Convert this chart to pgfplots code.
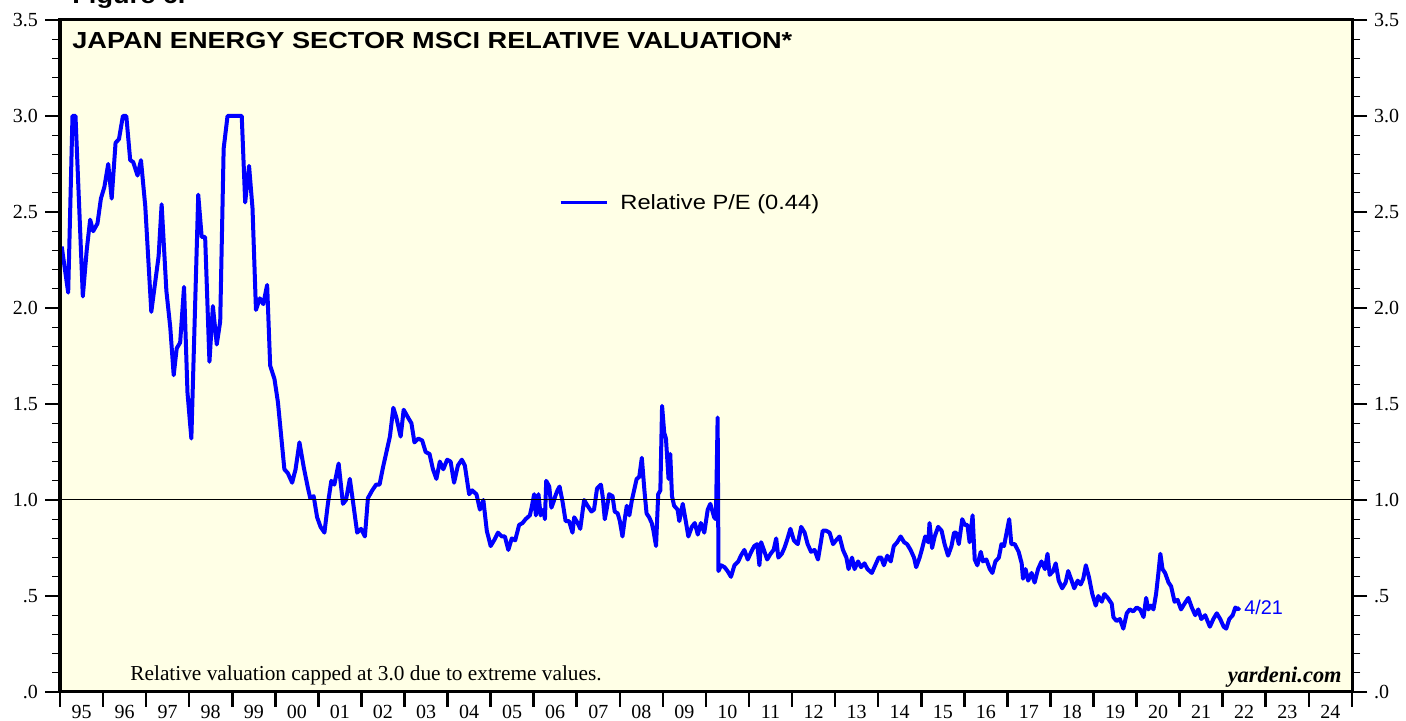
\documentclass[border=0pt]{standalone}
\usepackage{fontspec}
\setmainfont{Liberation Serif}
\newfontfamily\arial{Liberation Sans}
\newfontfamily\arialwide[FakeStretch=1.17]{Liberation Sans}
\newfontfamily\arialleg[FakeStretch=1.15]{Liberation Sans}
\usepackage{pgfplots}
\pgfplotsset{compat=1.18}
\usepackage{pgfplotstable}
\definecolor{bgyellow}{RGB}{255,255,230}
\definecolor{lineblue}{RGB}{0,0,255}
\pgfplotstableread{
yr val
1995.04 2.32
1995.19 2.08
1995.29 3.00
1995.36 3.00
1995.53 2.06
1995.62 2.30
1995.70 2.46
1995.77 2.40
1995.87 2.44
1995.95 2.57
1996.03 2.63
1996.12 2.75
1996.20 2.57
1996.29 2.86
1996.37 2.88
1996.46 3.00
1996.54 3.00
1996.63 2.77
1996.70 2.76
1996.80 2.69
1996.88 2.77
1996.98 2.53
1997.12 1.98
1997.29 2.27
1997.36 2.54
1997.47 2.09
1997.56 1.90
1997.64 1.65
1997.71 1.79
1997.79 1.82
1997.88 2.11
1997.96 1.56
1998.05 1.32
1998.21 2.59
1998.29 2.37
1998.37 2.37
1998.47 1.72
1998.55 2.01
1998.64 1.81
1998.72 1.93
1998.80 2.83
1998.89 3.00
1999.22 3.00
1999.30 2.55
1999.39 2.74
1999.47 2.52
1999.55 1.99
1999.64 2.05
1999.72 2.02
1999.81 2.12
1999.88 1.70
1999.98 1.63
2000.06 1.51
2000.21 1.16
2000.29 1.14
2000.39 1.09
2000.47 1.16
2000.56 1.30
2000.66 1.17
2000.75 1.07
2000.81 1.01
2000.89 1.02
2000.97 0.91
2001.05 0.86
2001.14 0.83
2001.22 0.98
2001.30 1.10
2001.37 1.08
2001.47 1.19
2001.57 0.98
2001.64 1.00
2001.73 1.11
2001.81 0.98
2001.90 0.83
2001.99 0.85
2002.08 0.81
2002.15 1.01
2002.25 1.05
2002.34 1.08
2002.42 1.08
2002.50 1.17
2002.57 1.24
2002.66 1.33
2002.74 1.48
2002.81 1.43
2002.91 1.33
2002.98 1.47
2003.08 1.43
2003.16 1.40
2003.23 1.30
2003.32 1.32
2003.41 1.31
2003.49 1.25
2003.58 1.24
2003.66 1.16
2003.74 1.11
2003.82 1.20
2003.90 1.16
2003.99 1.21
2004.07 1.20
2004.15 1.09
2004.24 1.18
2004.33 1.21
2004.40 1.18
2004.50 1.03
2004.57 1.05
2004.67 1.03
2004.75 0.95
2004.83 1.00
2004.91 0.84
2005.00 0.76
2005.08 0.79
2005.17 0.83
2005.26 0.81
2005.33 0.81
2005.41 0.74
2005.49 0.80
2005.57 0.79
2005.66 0.87
2005.74 0.88
2005.81 0.90
2005.91 0.92
2005.95 0.96
2006.01 1.03
2006.05 0.92
2006.11 1.03
2006.16 0.92
2006.23 0.95
2006.26 0.90
2006.29 1.10
2006.36 1.07
2006.41 0.96
2006.46 0.99
2006.50 1.02
2006.55 1.05
2006.60 1.07
2006.67 0.99
2006.74 0.89
2006.82 0.89
2006.90 0.83
2006.94 0.91
2007.02 0.88
2007.08 0.85
2007.17 1.00
2007.25 0.97
2007.34 0.94
2007.40 0.95
2007.47 1.06
2007.56 1.08
2007.60 1.02
2007.65 0.90
2007.70 0.96
2007.75 1.03
2007.83 1.02
2007.88 0.94
2007.95 0.93
2008.00 0.89
2008.06 0.81
2008.12 0.91
2008.16 0.97
2008.22 0.92
2008.28 1.00
2008.33 1.05
2008.39 1.11
2008.45 1.12
2008.51 1.22
2008.57 1.05
2008.62 0.93
2008.68 0.91
2008.74 0.88
2008.78 0.84
2008.84 0.76
2008.89 1.03
2008.94 1.05
2008.98 1.49
2009.03 1.35
2009.07 1.32
2009.13 1.11
2009.17 1.24
2009.21 1.02
2009.26 0.97
2009.34 0.95
2009.38 0.89
2009.46 0.98
2009.53 0.89
2009.59 0.81
2009.67 0.86
2009.74 0.88
2009.81 0.82
2009.88 0.88
2009.96 0.83
2010.04 0.95
2010.10 0.98
2010.19 0.91
2010.23 0.90
2010.27 1.43
2010.29 0.63
2010.35 0.66
2010.43 0.65
2010.50 0.63
2010.58 0.60
2010.66 0.66
2010.75 0.68
2010.81 0.71
2010.89 0.74
2010.97 0.69
2011.05 0.73
2011.12 0.76
2011.19 0.77
2011.24 0.66
2011.28 0.78
2011.36 0.73
2011.42 0.69
2011.50 0.72
2011.57 0.74
2011.63 0.80
2011.68 0.70
2011.76 0.72
2011.82 0.75
2011.88 0.79
2011.96 0.85
2012.04 0.79
2012.13 0.77
2012.21 0.86
2012.29 0.83
2012.36 0.77
2012.44 0.73
2012.52 0.74
2012.60 0.69
2012.66 0.77
2012.71 0.84
2012.79 0.84
2012.87 0.83
2012.95 0.77
2013.02 0.79
2013.10 0.81
2013.18 0.74
2013.26 0.70
2013.31 0.64
2013.39 0.70
2013.45 0.64
2013.53 0.68
2013.60 0.65
2013.68 0.67
2013.75 0.64
2013.85 0.62
2013.93 0.66
2014.01 0.70
2014.07 0.70
2014.13 0.66
2014.21 0.71
2014.29 0.68
2014.36 0.76
2014.44 0.78
2014.52 0.81
2014.60 0.78
2014.67 0.77
2014.75 0.74
2014.83 0.70
2014.88 0.65
2014.96 0.70
2015.01 0.74
2015.09 0.81
2015.16 0.78
2015.19 0.88
2015.25 0.75
2015.31 0.81
2015.39 0.86
2015.47 0.84
2015.54 0.77
2015.62 0.71
2015.70 0.76
2015.76 0.83
2015.81 0.83
2015.87 0.77
2015.95 0.90
2016.01 0.87
2016.07 0.87
2016.12 0.78
2016.19 0.92
2016.24 0.69
2016.30 0.66
2016.38 0.73
2016.43 0.68
2016.51 0.69
2016.59 0.64
2016.65 0.62
2016.72 0.68
2016.80 0.70
2016.86 0.77
2016.92 0.76
2017.04 0.90
2017.09 0.77
2017.17 0.77
2017.26 0.73
2017.33 0.67
2017.36 0.59
2017.42 0.64
2017.48 0.58
2017.56 0.62
2017.63 0.57
2017.71 0.64
2017.79 0.68
2017.87 0.64
2017.93 0.72
2017.98 0.61
2018.06 0.63
2018.12 0.67
2018.19 0.58
2018.27 0.54
2018.35 0.57
2018.41 0.63
2018.49 0.58
2018.55 0.54
2018.63 0.58
2018.70 0.56
2018.76 0.59
2018.82 0.66
2018.89 0.60
2018.97 0.51
2019.05 0.45
2019.11 0.50
2019.19 0.47
2019.25 0.51
2019.33 0.49
2019.42 0.46
2019.46 0.39
2019.53 0.37
2019.61 0.38
2019.69 0.33
2019.77 0.41
2019.84 0.43
2019.92 0.42
2020.00 0.44
2020.08 0.43
2020.16 0.39
2020.22 0.49
2020.27 0.43
2020.33 0.45
2020.39 0.43
2020.45 0.51
2020.50 0.61
2020.55 0.72
2020.60 0.64
2020.66 0.62
2020.74 0.57
2020.80 0.55
2020.88 0.47
2020.95 0.48
2021.03 0.43
2021.11 0.46
2021.20 0.49
2021.28 0.44
2021.36 0.40
2021.43 0.43
2021.50 0.38
2021.59 0.40
2021.70 0.34
2021.78 0.38
2021.86 0.41
2021.94 0.38
2022.02 0.34
2022.08 0.33
2022.15 0.38
2022.23 0.40
2022.29 0.44
2022.35 0.43
2022.39 0.44
}\petable
\begin{document}
\begin{tikzpicture}
\path[use as bounding box] (-30pt,-14.5pt) rectangle (673pt,346pt);
\pgfplotsset{
  common/.style={
    width=646pt, height=336pt, scale only axis,
    xmin=1995, xmax=2025, ymin=0, ymax=3.5,
    ytick={0,0.5,1,1.5,2,2.5,3,3.5},
    yticklabels={.0,.5,1.0,1.5,2.0,2.5,3.0,3.5},
    minor y tick num=4,
    tick align=outside,
    major tick length=7.5pt, minor tick length=4pt,
    y tick style={line width=0.6pt, black},
    tick label style={font=\fontsize{10}{12}\selectfont},
    axis line style={line width=1.5pt},
  }
}
\begin{axis}[common,
  axis background/.style={fill=bgyellow},
  ytick pos=both, yticklabel pos=left,
  xtick={1995,...,2024},
  xticklabels={95,96,97,98,99,00,01,02,03,04,05,06,07,08,09,10,11,12,13,14,15,16,17,18,19,20,21,22,23,24},
  xticklabel style={xshift=10.77pt, yshift=4.5pt},
  extra x ticks={2025}, extra x tick labels={},
  xtick pos=bottom,
  x tick style={line width=1.3pt, black},
]
\addplot[lineblue, line width=2pt, line join=round, mark=none] table[x=yr, y=val] {\petable};
\addplot[black, line width=0.5pt, mark=none] coordinates {(1995,1) (2025,1)};
\end{axis}
\begin{axis}[common,
  hide x axis,
  ytick pos=right, yticklabel pos=right,
]
\addplot[draw=none] coordinates {(1995,0)};
\end{axis}
\node[anchor=base west, font=\arialwide\bfseries\fontsize{11.6}{14}\selectfont, inner sep=0pt] at (6pt,344pt) {Figure 6.};
\node[anchor=base west, font=\arialwide\bfseries\fontsize{11.6}{14}\selectfont, inner sep=0pt] at (6pt,321.8pt) {JAPAN ENERGY SECTOR MSCI RELATIVE VALUATION*};
\draw[lineblue, line width=1.5pt] (250.3pt,244.7pt) -- (273.3pt,244.7pt);
\node[anchor=base west, font=\arialleg\fontsize{10.3}{12}\selectfont, inner sep=0pt] at (280pt,241pt) {Relative P/E (0.44)};
\node[anchor=base west, font=\arial\fontsize{9.9}{11}\selectfont, text=lineblue, inner sep=0pt] at (592pt,38.5pt) {4/21};
\node[anchor=base west, font=\fontsize{10.66}{12}\selectfont, inner sep=0pt] at (35pt,5.5pt) {Relative valuation capped at 3.0 due to extreme values.};
\node[anchor=base east, font=\bfseries\itshape\fontsize{11.2}{12}\selectfont, inner sep=0pt] at (641pt,4.5pt) {yardeni.com};
\end{tikzpicture}
\end{document}
